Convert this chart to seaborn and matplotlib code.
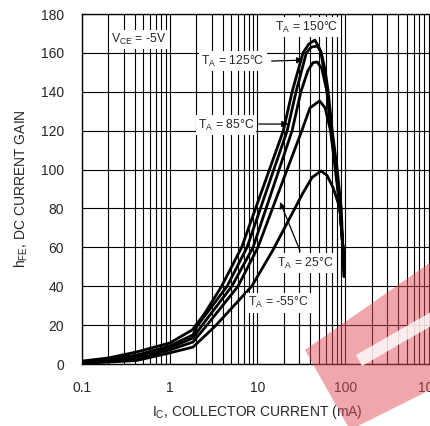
import numpy as np
import pandas as pd
import matplotlib
matplotlib.use('Agg')
import matplotlib.pyplot as plt
import matplotlib.ticker as mticker
from matplotlib.patches import Polygon
import seaborn as sns

# hFE vs collector current (mA, gain)
ic_150 = [0.1, 0.2, 0.42, 1.0, 1.8, 2.5, 3.9, 6.6, 19.7, 24.8, 33, 38.5, 45, 50, 53, 57, 62, 69, 79, 87, 94, 97]
hfe_150 = [1.5, 3.1, 6.2, 10.8, 17.5, 26, 40, 60, 120, 140, 160, 164.6, 166.6, 163, 160, 151, 140, 120, 100, 80, 60, 45]

ic_125 = [0.1, 0.2, 0.42, 1.0, 1.84, 2.05, 4.5, 7.6, 21.8, 27.5, 36, 41, 48, 53, 59, 64, 71, 81, 90, 94, 97]
hfe_125 = [1.0, 2.6, 4.6, 9.3, 15, 19.5, 40, 60, 120, 140, 160, 163, 163.5, 160.5, 151, 140, 120, 100, 80, 60, 48]

ic_85 = [0.1, 0.2, 0.42, 1.0, 1.84, 2.3, 5.1, 8.9, 24.8, 31.2, 37.6, 43, 48, 54, 62, 69, 79, 87, 94, 97]
hfe_85 = [0.8, 2.1, 3.6, 8.2, 13.4, 19.5, 40, 60, 120, 140, 151, 155, 155.3, 152, 140, 120, 100, 80, 60, 51]

ic_25 = [0.1, 0.2, 0.42, 1.0, 1.84, 2.6, 6.0, 10.1, 16, 32, 39.6, 51, 59, 68, 77, 87, 94, 97]
hfe_25 = [0.5, 1.5, 2.6, 7.2, 11.3, 19.5, 40, 60, 84, 120, 131.7, 135.3, 131.7, 120, 100, 80, 60, 52]

ic_m55 = [0.1, 0.2, 0.42, 1.0, 1.84, 3.3, 8.6, 15, 33, 42, 53, 62, 73, 87, 94, 97]
hfe_m55 = [0.3, 1.0, 1.8, 5.7, 8.7, 19.5, 40, 58.6, 88, 96, 99.3, 97, 90.5, 80, 60, 45]

curves = {'150': (ic_150, hfe_150), '125': (ic_125, hfe_125), '85': (ic_85, hfe_85),
          '25': (ic_25, hfe_25), '-55': (ic_m55, hfe_m55)}
df = pd.concat([pd.DataFrame({'ic': x, 'hfe': y, 'ta': k}) for k, (x, y) in curves.items()])

x_ticks = [0.1, 1, 10, 100, 1000]
x_ticklabels = ['0.1', '1', '10', '100', '1000']
y_ticks = list(range(0, 181, 20))

sns.set_style('white')
plt.rcParams['font.family'] = ['Liberation Sans', 'DejaVu Sans']
plt.rcParams['mathtext.fontset'] = 'custom'
plt.rcParams['mathtext.rm'] = 'Liberation Sans'

fig = plt.figure(figsize=(4.31, 4.26), dpi=100)
ax = fig.add_axes([82/431, 62/426, 351/431, 350/426])

sns.lineplot(data=df, x='ic', y='hfe', hue='ta', palette={k: 'black' for k in curves},
             legend=False, linewidth=2.0, sort=False, estimator=None, ax=ax, zorder=3)

ax.set_xscale('log')
ax.set_xlim(0.1, 1000)
ax.set_ylim(0, 180)
ax.xaxis.set_major_locator(mticker.FixedLocator(x_ticks))
ax.xaxis.set_major_formatter(mticker.FixedFormatter(x_ticklabels))
ax.xaxis.set_minor_locator(mticker.LogLocator(base=10, subs=np.arange(2, 10)))
ax.xaxis.set_minor_formatter(mticker.NullFormatter())
ax.set_yticks(y_ticks)
ax.grid(True, which='both', axis='x', color='black', lw=0.8)
ax.grid(True, which='major', axis='y', color='black', lw=0.8)
ax.tick_params(axis='both', which='both', length=0, labelsize=10)
ax.tick_params(axis='y', pad=13)
ax.tick_params(axis='x', pad=12)
for s in ax.spines.values():
    s.set_color('black'); s.set_linewidth(1.0)

ax.set_xlabel(r'I$_\mathregular{C}$, COLLECTOR CURRENT (mA)', fontsize=10, labelpad=6)
ax.set_ylabel(r'h$_\mathregular{FE}$, DC CURRENT GAIN', fontsize=10, labelpad=8)

box = dict(facecolor='white', edgecolor='none', pad=1.5)
lab = dict(fontsize=8.8, ha='center', va='center', bbox=box, zorder=5)
ax.text(0.447, 167, r'V$_\mathregular{CE}$ = -5V', **lab)
ax.text(36.8, 173.3, r'T$_\mathregular{A}$ = 150°C', **lab)
ax.text(5.27, 155.8, r'T$_\mathregular{A}$ = 125°C', **lab)
ax.text(4.38, 122.9, r'T$_\mathregular{A}$ = 85°C', **lab)
ax.text(34.9, 51.9, r'T$_\mathregular{A}$ = 25°C', **lab)
ax.text(17.2, 31.4, r'T$_\mathregular{A}$ = -55°C', **lab)

arrow = dict(arrowstyle='-|>', color='black', lw=0.9, mutation_scale=9, shrinkA=0, shrinkB=0)
ax.annotate('', xy=(33.1, 156.3), xytext=(14.5, 155.8), arrowprops=arrow, zorder=4)
ax.annotate('', xy=(22.4, 123.4), xytext=(10.3, 123.4), arrowprops=arrow, zorder=4)
ax.annotate('', xy=(18.1, 83.3), xytext=(30.6, 58.1), arrowprops=arrow, zorder=4)

# faint red watermark in the lower right corner
wm = Polygon([(305/431, 1-350/426), (431/431, 1-262/426), (490/431, 1-360/426), (350/431, 1-430/426)],
             closed=True, transform=fig.transFigure, facecolor='#e0505a', alpha=0.5,
             edgecolor='none', zorder=10)
fig.patches.append(wm)
wb = Polygon([(356/431, 1-355/426), (431/431, 1-312/426), (431/431, 1-326/426), (362/431, 1-366/426)],
             closed=True, transform=fig.transFigure, facecolor='white', alpha=0.8,
             edgecolor='none', zorder=11)
fig.patches.append(wb)

fig.savefig('out.png', dpi=100)
